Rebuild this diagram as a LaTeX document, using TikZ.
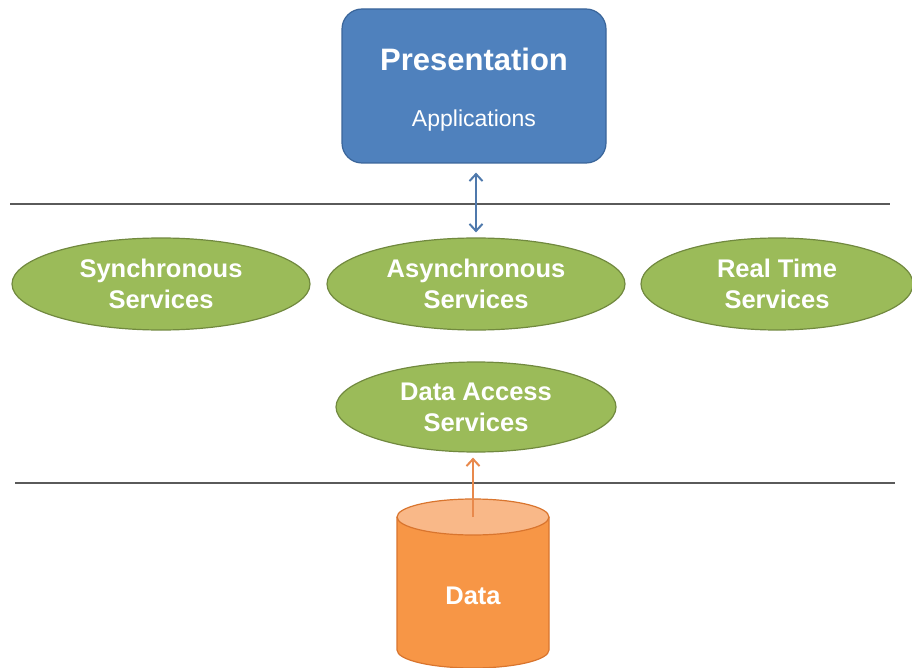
\documentclass[tikz,border=0pt]{standalone}
\usepackage{fontspec}
\setmainfont{Liberation Sans}
\usetikzlibrary{shapes.geometric,arrows.meta}

\definecolor{presblue}{HTML}{4F81BD}
\definecolor{presedge}{HTML}{3A659A}
\definecolor{arrowblue}{HTML}{4F79AC}
\definecolor{svcgreen}{HTML}{9BBB59}
\definecolor{svcedge}{HTML}{71893F}
\definecolor{dataorange}{HTML}{F79646}
\definecolor{datalight}{HTML}{F9B888}
\definecolor{dataedge}{HTML}{D9752E}
\definecolor{arroworange}{HTML}{E8894C}
\definecolor{tierline}{HTML}{5A5A5A}

\tikzset{
  service/.style={ellipse, fill=svcgreen, draw=svcedge, line width=1.2pt,
    inner sep=0pt, text=white, align=center,
    font=\fontsize{25.5}{31}\selectfont\bfseries},
  tier/.style={draw=tierline, line width=1.3pt},
  barb/.style={line width=2pt},
  barbtip/.tip={Straight Barb[length=7pt,width=13pt]}
}

\begin{document}
\begin{tikzpicture}[x=1pt,y=-1pt]
    \useasboundingbox (0,0) rectangle (912,668);

    % presentation tier
    \node[rounded corners=20pt, fill=presblue, draw=presedge, line width=1.2pt,
      minimum width=264pt, minimum height=154pt] (presentation) at (474,86) {};
    \node[text=white, font=\fontsize{31}{36}\selectfont\bfseries] (prestitle) at (474,59) {Presentation};
    \node[text=white, font=\fontsize{23}{28}\selectfont] (apps) at (474,121) {Applications};

    \draw[tier] (10,204) -- (890,204);

    % services
    \node[service, minimum width=298pt, minimum height=92pt] (sync) at (161,284) {Synchronous\\Services};
    \node[service, minimum width=298pt, minimum height=92pt] (async) at (476,284) {Asynchronous\\Services};
    \node[service, minimum width=272pt, minimum height=92pt] (realtime) at (777,284) {Real Time\\Services};
    \node[service, minimum width=280pt, minimum height=90pt] (dataaccess) at (476,407) {Data Access\\Services};

    \draw[barb, barbtip-barbtip, draw=arrowblue, shorten <=5pt, shorten >=9pt]
      (async.north) -- (async.north |- presentation.south);

    \draw[tier] (15,483) -- (895,483);

    % data store
    \fill[dataorange] (397,517) -- (397,650) arc[start angle=180, end angle=360, x radius=76pt, y radius=18pt] -- (549,517) -- cycle;
    \draw[dataedge, line width=1.2pt] (397,517) -- (397,650) arc[start angle=180, end angle=360, x radius=76pt, y radius=18pt] -- (549,517);
    \filldraw[fill=datalight, draw=dataedge, line width=1.2pt] (473,517) ellipse [x radius=76pt, y radius=18pt];
    \coordinate (datatop) at (473,517);
    \node[text=white, font=\fontsize{25.5}{30}\selectfont\bfseries] (data) at (473,596) {Data};

    \draw[barb, -barbtip, draw=arroworange, shorten >=5pt] (datatop) -- (datatop |- dataaccess.south);
\end{tikzpicture}
\end{document}
